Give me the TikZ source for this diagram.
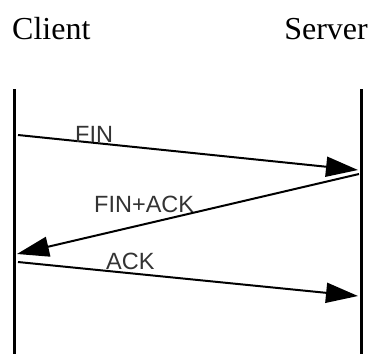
\documentclass[tikz,border=0pt]{standalone}
\usepackage{fontspec}
\setmainfont{Liberation Serif}
\newfontfamily\labelfont{Liberation Sans}
\usetikzlibrary{arrows.meta}
\begin{document}
\begin{tikzpicture}[x=1pt,y=-1pt,
  title/.style={inner sep=0pt,font=\fontsize{32}{36}\selectfont},
  msglabel/.style={inner sep=0pt,anchor=base west,text=black!80,font=\labelfont\fontsize{23.5}{27}\selectfont},
  lifeline/.style={line width=3pt},
  msg/.style={line width=2pt,-{Triangle[length=32pt,width=20pt]}}]
\useasboundingbox (0,0) rectangle (372,354);
% titles
\node[title,anchor=base west] (client) at (12,39) {Client};
\node[title,anchor=base east] (server) at (368,39) {Server};
% lifelines
\coordinate (ctop) at (14.5,89);
\coordinate (cbot) at (14.5,354);
\coordinate (stop) at (361.5,89);
\coordinate (sbot) at (361.5,354);
\draw[lifeline] (ctop) -- (cbot);
\draw[lifeline] (stop) -- (sbot);
% message end points
\coordinate (c1) at (18,135);
\coordinate (s1) at (358,170);
\coordinate (s2) at (359,174);
\coordinate (c2) at (17,254);
\coordinate (c3) at (18,262);
\coordinate (s3) at (358,296);
\draw[msg] (c1) -- (s1);
\draw[msg] (s2) -- (c2);
\draw[msg] (c3) -- (s3);
% labels
\node[msglabel] (fin) at (75,142) {FIN};
\node[msglabel] (finack) at (94,212) {FIN+ACK};
\node[msglabel] (ack) at (106,269) {ACK};
\end{tikzpicture}
\end{document}
